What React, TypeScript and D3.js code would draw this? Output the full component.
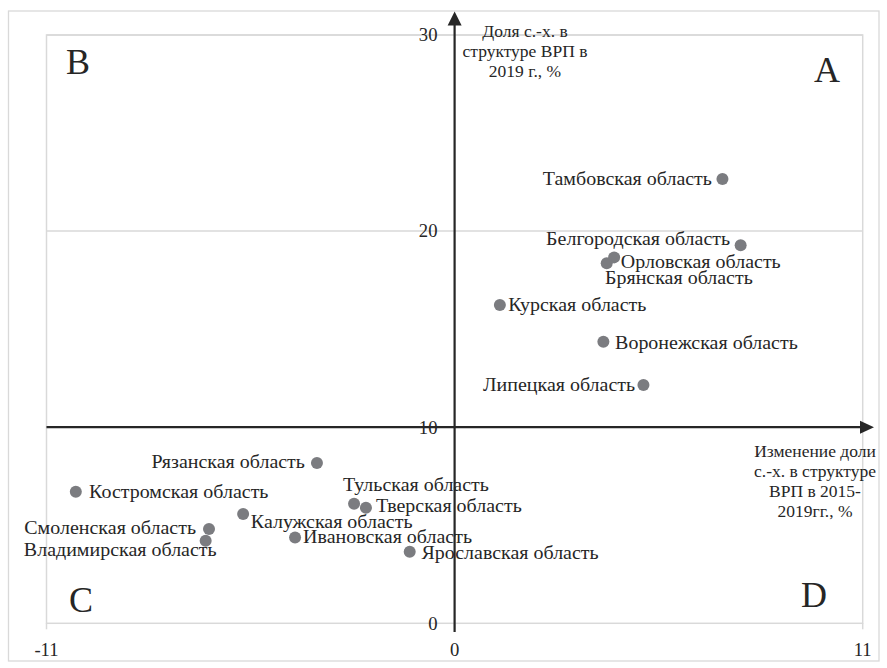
import React from "react";
import * as d3 from "d3";

// ---- data ----
const regions: string[] = [
  "Тамбовская область",
  "Белгородская область",
  "Орловская область",
  "Брянская область",
  "Курская область",
  "Воронежская область",
  "Липецкая область",
  "Рязанская область",
  "Костромская область",
  "Тульская область",
  "Тверская область",
  "Калужская область",
  "Смоленская область",
  "Владимирская область",
  "Ивановская область",
  "Ярославская область",
];
// change of agricultural share in GRP 2015-2019, p.p.
const changeValues: number[] = [
  7.22, 7.71, 4.3, 4.1, 1.22, 4.01, 5.09, -3.71, -10.21, -2.71, -2.39, -5.7, -6.62, -6.71, -4.3, -1.21,
];
// agricultural share in GRP 2019, %
const shareValues: number[] = [
  22.66, 19.28, 18.66, 18.36, 16.23, 14.36, 12.15, 8.18, 6.71, 6.1, 5.89, 5.57, 4.81, 4.21, 4.37, 3.65,
];
const xTicks: number[] = [-11, 0, 11];
const yTicks: number[] = [0, 10, 20, 30];
const yTitleLines: string[] = ["Доля с.-х. в", "структуре ВРП в", "2019 г., %"];
const xTitleLines: string[] = ["Изменение доли", "с.-х. в структуре", "ВРП в 2015-", "2019гг., %"];
const quadrantNames: string[] = ["A", "B", "C", "D"];

// ---- layout (label placement, px offsets from the point) ----
const labelPlacement: { dx: number; dy: number; anchor: string }[] = [
  { dx: -10.5, dy: 0, anchor: "end" },
  { dx: -10.5, dy: -7, anchor: "end" },
  { dx: 6.7, dy: 4.7, anchor: "start" },
  { dx: -1.7, dy: 14.7, anchor: "start" },
  { dx: 8.3, dy: 0, anchor: "start" },
  { dx: 11.7, dy: 1, anchor: "start" },
  { dx: -8.3, dy: 0, anchor: "end" },
  { dx: -12, dy: -1, anchor: "end" },
  { dx: 13.3, dy: 0, anchor: "start" },
  { dx: -11, dy: -19, anchor: "start" },
  { dx: 10, dy: -1.7, anchor: "start" },
  { dx: 7.7, dy: 8, anchor: "start" },
  { dx: -13, dy: -1, anchor: "end" },
  { dx: 11, dy: 9.3, anchor: "end" },
  { dx: 8, dy: -0.7, anchor: "start" },
  { dx: 11.7, dy: 1, anchor: "start" },
];
const quadrantPos: { x: number; y: number }[] = [
  { x: 814, y: 82 },
  { x: 66, y: 74 },
  { x: 69, y: 611.5 },
  { x: 801, y: 607 },
];

const W = 887;
const H = 668;
const plot = { left: 46.5, right: 862.7, top: 35, bottom: 623.3 };
const FONT = "'Liberation Serif', 'Times New Roman', serif";
const TEXT = "#262626";
const GRID = "#d9d9d9";
const AXIS = "#262626";
const LABEL_STRETCH = 1.07;

export default function App() {
  const x = d3.scaleLinear().domain([-11, 11]).range([plot.left, plot.right]);
  const y = d3.scaleLinear().domain([0, 30]).range([plot.bottom, plot.top]);
  const x0 = x(0);
  const y10 = y(10);

  return (
    <svg
      width={W}
      height={H}
      style={{ position: "absolute", left: 0, top: 0, background: "#fff" }}
      fontFamily={FONT}
    >
      <rect x={0} y={0} width={W} height={H} fill="#fff" />
      {/* outer chart border */}
      <rect x={8.5} y={11} width={870.5} height={650} fill="none" stroke={GRID} strokeWidth={1.3} />
      {/* gridlines */}
      {yTicks.filter((t) => t > 0).map((t) => (
        <line key={"g" + t} x1={plot.left} x2={plot.right} y1={y(t)} y2={y(t)} stroke={GRID} strokeWidth={1.5} />
      ))}
      {/* plot area border */}
      <rect
        x={plot.left}
        y={plot.top}
        width={plot.right - plot.left}
        height={plot.bottom - plot.top}
        fill="none"
        stroke={GRID}
        strokeWidth={1.5}
      />
      {/* bottom axis ticks */}
      {xTicks.map((t) => (
        <line key={"xt" + t} x1={x(t)} x2={x(t)} y1={plot.bottom} y2={plot.bottom + 6} stroke={GRID} strokeWidth={1.5} />
      ))}
      {/* x tick labels */}
      {xTicks.map((t) => (
        <text key={"xl" + t} x={x(t)} y={655.5} textAnchor="middle" fontSize={18.67} fill={TEXT}>
          {t}
        </text>
      ))}
      {/* y tick labels */}
      {yTicks.map((t) => (
        <text key={"yl" + t} x={437.5} y={y(t) + 6.3} textAnchor="end" fontSize={18.67} fill={TEXT}>
          {t}
        </text>
      ))}
      {/* y axis with arrow */}
      <line x1={x0} x2={x0} y1={24} y2={632} stroke={AXIS} strokeWidth={2.2} />
      <path d={`M${x0},11.5 L${x0 - 7},25.5 L${x0 + 7},25.5 Z`} fill={AXIS} />
      {/* x axis with arrow */}
      <line x1={plot.left} x2={861} y1={y10} y2={y10} stroke={AXIS} strokeWidth={2.2} />
      <path d={`M874,${y10} L860,${y10 - 6.5} L860,${y10 + 6.5} Z`} fill={AXIS} />
      {/* axis titles */}
      {yTitleLines.map((s, i) => (
        <text key={"yt" + i} x={525} y={36.5 + i * 20} textAnchor="middle" fontSize={17.5} fill={TEXT}>
          {s}
        </text>
      ))}
      {xTitleLines.map((s, i) => (
        <text key={"xtt" + i} x={815} y={457 + i * 20} textAnchor="middle" fontSize={17.5} fill={TEXT}>
          {s}
        </text>
      ))}
      {/* quadrant letters */}
      {quadrantNames.map((q, i) => (
        <text key={q} x={quadrantPos[i].x} y={quadrantPos[i].y} fontSize={36} fill={TEXT}>
          {q}
        </text>
      ))}
      {/* points */}
      {regions.map((r, i) => (
        <circle key={"c" + i} cx={x(changeValues[i])} cy={y(shareValues[i])} r={6} fill="#7b7c80" />
      ))}
      {/* labels */}
      {regions.map((r, i) => (
        <g
          key={"t" + i}
          transform={`translate(${x(changeValues[i]) + labelPlacement[i].dx},${
            y(shareValues[i]) + labelPlacement[i].dy + 6.4
          }) scale(${LABEL_STRETCH},1)`}
        >
          <text x={0} y={0} textAnchor={labelPlacement[i].anchor as any} fontSize={18.67} fill={TEXT}>
            {r}
          </text>
        </g>
      ))}
    </svg>
  );
}
